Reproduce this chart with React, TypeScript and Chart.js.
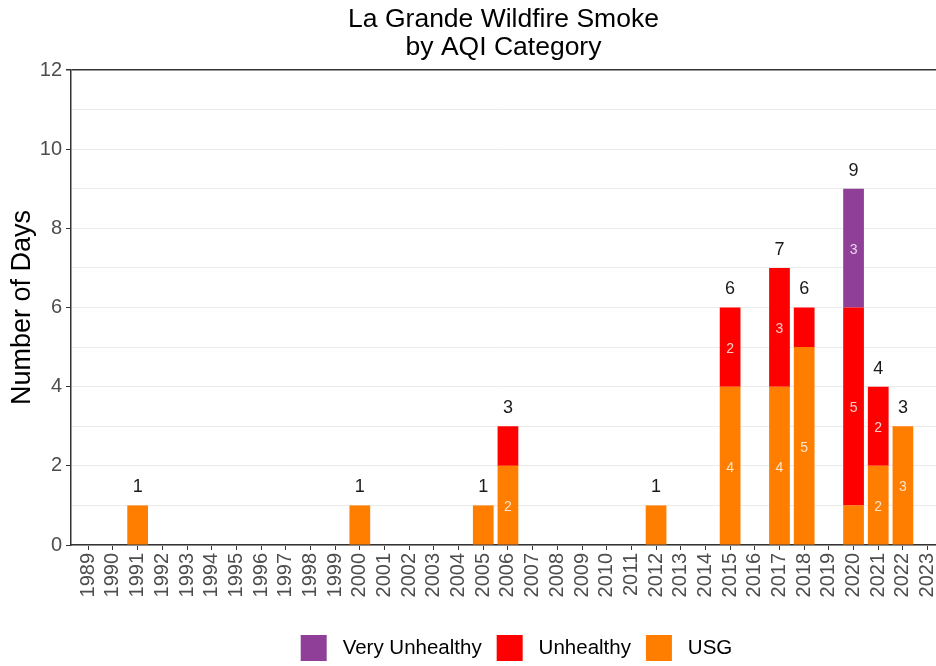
import React, { useEffect, useRef } from 'react';
import { Chart, registerables } from 'chart.js';

Chart.register(...registerables);

const years = [
  '1989', '1990', '1991', '1992', '1993', '1994', '1995', '1996', '1997', '1998',
  '1999', '2000', '2001', '2002', '2003', '2004', '2005', '2006', '2007', '2008',
  '2009', '2010', '2011', '2012', '2013', '2014', '2015', '2016', '2017', '2018',
  '2019', '2020', '2021', '2022', '2023',
];

const usg = [
  0, 0, 1, 0, 0, 0, 0, 0, 0, 0,
  0, 1, 0, 0, 0, 0, 1, 2, 0, 0,
  0, 0, 0, 1, 0, 0, 4, 0, 4, 5,
  0, 1, 2, 3, 0,
];

const unhealthy = [
  0, 0, 0, 0, 0, 0, 0, 0, 0, 0,
  0, 0, 0, 0, 0, 0, 0, 1, 0, 0,
  0, 0, 0, 0, 0, 0, 2, 0, 3, 1,
  0, 5, 2, 0, 0,
];

const veryUnhealthy = [
  0, 0, 0, 0, 0, 0, 0, 0, 0, 0,
  0, 0, 0, 0, 0, 0, 0, 0, 0, 0,
  0, 0, 0, 0, 0, 0, 0, 0, 0, 0,
  0, 3, 0, 0, 0,
];

const yTickValues = [0, 2, 4, 6, 8, 10, 12];

const FONT = '"Liberation Sans", Arial, Helvetica, sans-serif';

const stackOrder = [usg, unhealthy, veryUnhealthy];

const labelPlugin = {
  id: 'barLabels',
  afterDatasetsDraw(chart: any) {
    const { ctx, scales } = chart;
    const x = scales.x;
    const y = scales.y;
    ctx.save();
    ctx.textAlign = 'center';
    ctx.textBaseline = 'middle';
    years.forEach((_, i) => {
      let cum = 0;
      stackOrder.forEach((s) => {
        const v = s[i];
        if (v >= 2) {
          ctx.font = `14px ${FONT}`;
          ctx.fillStyle = 'rgba(255,255,255,0.8)';
          ctx.fillText(String(v), x.getPixelForValue(i), y.getPixelForValue(cum + v / 2) + 2);
        }
        cum += v;
      });
      if (cum > 0) {
        ctx.font = `18px ${FONT}`;
        ctx.fillStyle = '#1a1a1a';
        ctx.fillText(String(cum), x.getPixelForValue(i), y.getPixelForValue(cum) - 18);
      }
    });
    ctx.restore();
  },
};

const legendShiftPlugin = {
  id: 'legendShift',
  afterLayout(chart: any) {
    const lg = chart.legend;
    if (!lg) return;
    lg.left += 13;
    lg.right += 13;
    lg.top += 5;
    lg.bottom += 5;
  },
};

export default function App() {
  const ref = useRef<HTMLCanvasElement | null>(null);

  useEffect(() => {
    if (!ref.current) return;
    const mk = (arr: number[]) => arr.map((v, i) => ({ x: i, y: v }));
    const chart = new Chart(ref.current, {
      type: 'bar',
      data: {
        datasets: [
          { label: 'USG', data: mk(usg), backgroundColor: '#ff7e00' },
          { label: 'Unhealthy', data: mk(unhealthy), backgroundColor: '#ff0000' },
          { label: 'Very Unhealthy', data: mk(veryUnhealthy), backgroundColor: '#8f3f97' },
        ],
      },
      options: {
        animation: false,
        responsive: false,
        maintainAspectRatio: false,
        devicePixelRatio: 1,
        datasets: { bar: { categoryPercentage: 1, barPercentage: 0.84, borderWidth: 0 } },
        layout: { padding: { left: 0, right: 0, top: 0, bottom: 0 } },
        plugins: {
          tooltip: { enabled: false },
          title: {
            display: true,
            fullSize: false,
            text: ['La Grande Wildfire Smoke', 'by AQI Category'],
            color: '#000',
            font: { family: FONT, size: 26.5, weight: 'normal', lineHeight: 1.057 },
            padding: { top: 6, bottom: 8 },
          },
          legend: {
            display: true,
            position: 'bottom',
            fullSize: false,
            reverse: true,
            labels: {
              boxWidth: 26,
              boxHeight: 26,
              padding: 15,
              color: '#000',
              font: { family: FONT, size: 20.5 },
              generateLabels: (c: any) =>
                Chart.defaults.plugins.legend.labels
                  .generateLabels(c)
                  .map((l: any) => ({ ...l, text: ' ' + l.text })),
            },
          },
        },
        scales: {
          x: {
            type: 'linear',
            stacked: true,
            offset: false,
            min: -0.7,
            max: 34.34,
            afterBuildTicks: (scale: any) => {
              scale.ticks = years.map((_, i) => ({ value: i }));
            },
            afterFit: (scale: any) => {
              scale.height = 70;
              scale.paddingRight = 0;
              scale.paddingLeft = 0;
            },
            ticks: {
              autoSkip: false,
              minRotation: 90,
              maxRotation: 90,
              padding: 3,
              color: '#4d4d4d',
              font: { family: FONT, size: 20 },
              callback: (v: any) => years[v] ?? '',
            },
            grid: {
              offset: false,
              drawOnChartArea: false,
              drawTicks: true,
              tickLength: 5,
              tickColor: '#333333',
              tickWidth: 1,
            },
            border: { display: true, color: '#333333', width: 1.5 },
          },
          y: {
            stacked: true,
            min: 0,
            max: 12,
            afterFit: (scale: any) => {
              scale.width = 71;
            },
            ticks: {
              stepSize: 1,
              padding: 4,
              color: '#4d4d4d',
              font: { family: FONT, size: 20 },
              callback: (v: any) => (yTickValues.includes(v) ? String(v) : ''),
            },
            grid: {
              color: (c: any) => (c.tick && c.tick.value === 12 ? '#333333' : '#ebebeb'),
              lineWidth: (c: any) => (c.tick && c.tick.value === 12 ? 1.5 : 1),
              tickLength: 5,
              tickColor: (c: any) => (c.tick && yTickValues.includes(c.tick.value) ? '#333333' : 'rgba(0,0,0,0)'),
            },
            border: { display: true, color: '#333333', width: 1.5 },
            title: {
              display: true,
              text: 'Number of Days',
              color: '#000',
              font: { family: FONT, size: 27 },
              padding: { top: 6, bottom: 0 },
            },
          },
        },
      },
      plugins: [labelPlugin, legendShiftPlugin],
    } as any);
    return () => chart.destroy();
  }, []);

  return (
    <div style={{ position: 'absolute', left: 0, top: 0, width: 936, height: 666, background: '#fff' }}>
      <canvas ref={ref} width={936} height={666} style={{ width: 936, height: 666 }} />
    </div>
  );
}
